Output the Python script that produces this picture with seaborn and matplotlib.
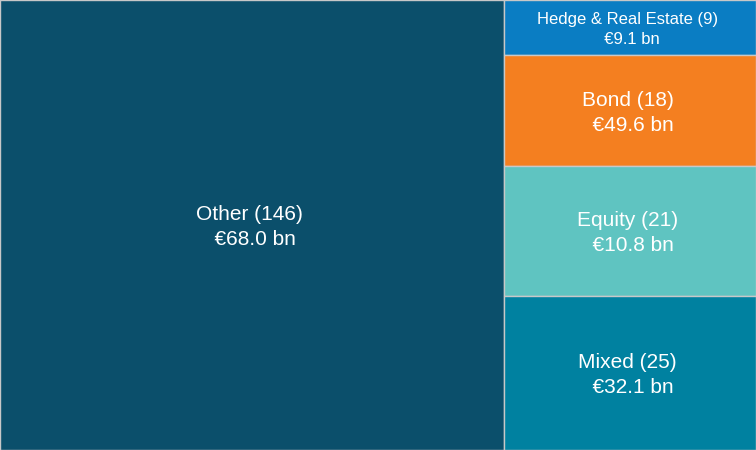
import matplotlib
matplotlib.use("Agg")
import matplotlib.pyplot as plt
import seaborn as sns

# fund categories: number of funds and assets
categories = ["Other", "Hedge & Real Estate", "Bond", "Equity", "Mixed"]
fund_counts = [146, 9, 18, 21, 25]
assets_bn = [68.0, 9.1, 49.6, 10.8, 32.1]
colors = ["#0b4f6b", "#0a7dc3", "#f47f20", "#5fc4c1", "#0081a0"]
font_sizes = [15, 12, 15, 15, 15]

sns.set_theme(style="white")
plt.rcParams["font.family"] = ["Liberation Sans", "DejaVu Sans"]

fig = plt.figure(figsize=(7.56, 4.5), dpi=100)
ax = fig.add_axes([0, 0, 1, 1])

total = sum(fund_counts)
rest = total - fund_counts[0]
big_w = fund_counts[0] / total

# slice-and-dice: big block on the left, the rest stacked on the right
lefts, widths, bottoms, heights = [0.0], [big_w], [0.0], [1.0]
y = 0.0
for c in fund_counts[1:]:
    h = c / rest
    lefts.append(big_w)
    widths.append(1 - big_w)
    bottoms.append(y)
    heights.append(h)
    y += h

ax.bar(lefts, heights, width=widths, bottom=bottoms, align="edge",
       color=colors, edgecolor="#c8c8c8", linewidth=1)

for name, n, a, l, w, b, h, fs in zip(categories, fund_counts, assets_bn,
                                      lefts, widths, bottoms, heights, font_sizes):
    ax.text(l + w / 2 - 0.003, b + h / 2 + 0.004, f"{name} ({n})\n  €{a:.1f} bn", color="white",
            ha="center", va="center", fontsize=fs, linespacing=1.4)

ax.set_xlim(0, 1)
ax.set_ylim(1, 0)
ax.axis("off")
fig.savefig("out.png", dpi=100)
